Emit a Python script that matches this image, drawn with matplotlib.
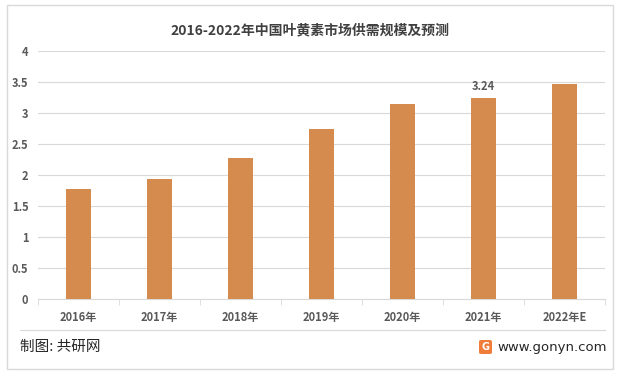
import matplotlib
matplotlib.use("Agg")
import matplotlib.pyplot as plt
from matplotlib.patches import Rectangle, FancyBboxPatch

plt.rcParams['font.family'] = ['Noto Sans CJK SC', 'DejaVu Sans']

categories = ['2016年', '2017年', '2018年', '2019年', '2020年', '2021年', '2022年E']
values = [1.77, 1.94, 2.27, 2.74, 3.15, 3.24, 3.47]
labeled_index = 5
title = '2016-2022年中国叶黄素市场供需规模及预测'

bar_color = '#D48B4D'
text_color = '#595959'

fig = plt.figure(figsize=(6.2, 3.77), dpi=100)
fig.patch.set_facecolor('white')

# outer border
fig.add_artist(Rectangle((7/620, 1-369/377), 606/620, 364/377, transform=fig.transFigure,
                         fill=False, edgecolor='#D9D9D9', linewidth=1))

ax = fig.add_axes([38/620, 1-299/377, 567/620, 248/377])
x = range(len(categories))
ax.bar(x, values, width=0.32, color=bar_color, zorder=3)
ax.set_xlim(-0.5, len(categories) - 0.5)
ax.set_ylim(0, 4)
ax.set_yticks([0, 0.5, 1, 1.5, 2, 2.5, 3, 3.5, 4])
ax.set_yticklabels(['0', '0.5', '1', '1.5', '2', '2.5', '3', '3.5', '4'])
ax.set_xticks(list(x))
ax.set_xticklabels(categories)
ax.grid(axis='y', color='#D9D9D9', linewidth=0.8, zorder=0)
for s in ['top', 'right', 'left']:
    ax.spines[s].set_visible(False)
ax.spines['bottom'].set_color('#D9D9D9')
ax.tick_params(axis='y', length=0, pad=7, labelsize=8, labelcolor=text_color)
ax.tick_params(axis='x', length=0, pad=9, labelsize=8, labelcolor=text_color)
for lab in ax.get_xticklabels() + ax.get_yticklabels():
    lab.set_fontweight('bold')
# minor tick marks between categories
ax.set_xticks([i + 0.5 for i in range(-1, len(categories))], minor=True)
ax.tick_params(axis='x', which='minor', length=4, color='#D9D9D9')

ax.text(labeled_index, values[labeled_index] + 0.08, f'{values[labeled_index]:.2f}',
        ha='center', va='bottom', fontsize=8, fontweight='bold', color=text_color)

fig.text(0.5, 1-30/377, title, ha='center', va='center', fontsize=10,
         fontweight='bold', color='#404040')

# separator line
fig.add_artist(plt.Line2D([20/620, 605/620], [1-330/377, 1-330/377],
                          transform=fig.transFigure, color='#D9D9D9', linewidth=0.8))
fig.text(20/620, 1-347/377, '制图: 共研网', ha='left', va='center', fontsize=10.5, color='#262626')
fig.text(607/620, 1-347/377, 'www.gonyn.com', ha='right', va='center', fontsize=9.5,
         color='#262626', family=['DejaVu Sans'])
fig.add_artist(FancyBboxPatch((479/620, 1-354/377), 13/620, 14/377, transform=fig.transFigure,
                              boxstyle='round,pad=0,rounding_size=0.004',
                              facecolor='#F07C3A', edgecolor='none'))
fig.text(485.5/620, 1-347/377, 'G', ha='center', va='center', fontsize=7,
         color='white', fontweight='bold', family=['DejaVu Sans'])

fig.savefig('out.png', dpi=100, facecolor='white')
